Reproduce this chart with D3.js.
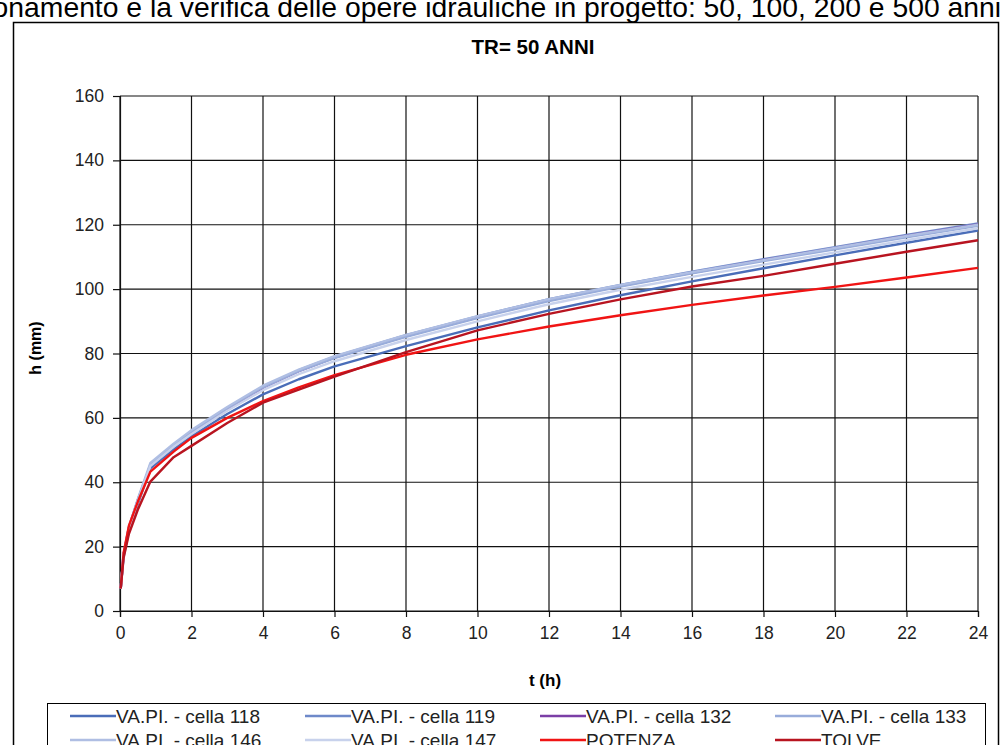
<!DOCTYPE html>
<html>
<head>
<meta charset="utf-8">
<script src="https://cdn.jsdelivr.net/npm/d3@7"></script>
<style>
  body { margin: 0; background: #fff; overflow: hidden; }
  svg { display: block; font-family: "Liberation Sans", Arial, sans-serif; }
</style>
</head>
<body>
<div id="chart"></div>
<script>
// Durations (hours)
const times = [0.02, 0.1, 0.25, 0.5, 0.85, 1.5, 2, 3, 4, 5, 6, 8, 10, 12, 14, 16, 18, 20, 22, 24];

// Rainfall depth h (mm) for each series
const cella118 = [7, 16.8, 25, 33.3, 44.3, 50.2, 54.3, 61.2, 67.3, 72, 76, 82.3, 88.1, 93.4, 98.1, 102.4, 106.5, 110.5, 114.4, 118.2];
const cella119 = [7, 17.5, 26, 34.5, 45.3, 51.5, 55.7, 63, 69.7, 74.8, 79, 85.7, 91.5, 96.9, 101.3, 105.4, 109.3, 113, 116.8, 120.4];
const cella132 = [7, 17.5, 26, 34.5, 45.2, 51.3, 55.5, 62.7, 69.4, 74.5, 78.7, 85.4, 91.2, 96.6, 101, 105.1, 109, 112.7, 116.5, 120.1];
const cella133 = [7, 17.3, 25.8, 34.3, 45.5, 51.6, 55.8, 63, 69.5, 74.5, 78.6, 85.2, 91, 96.3, 100.8, 104.9, 108.7, 112.4, 116.1, 119.7];
const cella146 = [7, 17.6, 26.2, 34.8, 46, 52, 56.2, 63.4, 70, 75, 79.2, 85.8, 91.6, 96.9, 101.3, 105.3, 109, 112.8, 116.5, 120];
const cella147 = [7, 17.2, 25.6, 34, 45, 51, 55, 62.2, 68.6, 73.6, 77.6, 84.2, 90, 95.3, 99.8, 103.8, 107.6, 111.4, 115.2, 118.9];
const potenza  = [7, 18, 26.5, 34, 43.3, 49.5, 53.8, 60, 65.2, 69.5, 73.3, 79.6, 84.4, 88.4, 91.9, 95.1, 98, 100.7, 103.6, 106.6];
const tolve    = [7, 16.5, 24, 31.5, 40.2, 47.8, 51.3, 58.4, 64.7, 68.8, 72.8, 80.4, 87.2, 92.3, 96.8, 100.8, 104.1, 107.9, 111.6, 115.2];

const seriesNames = ["VA.PI. - cella 118", "VA.PI. - cella 119", "VA.PI. - cella 132", "VA.PI. - cella 133",
                     "VA.PI. - cella 146", "VA.PI. - cella 147", "POTENZA", "TOLVE"];
const seriesValues = [cella118, cella119, cella132, cella133, cella146, cella147, potenza, tolve];
const seriesColors = ["#4A6DB8", "#6E89C9", "#7B3FA6", "#98ACDA", "#AFBEE3", "#C8D2EC", "#F01414", "#B81420"];

const xTicks = [0, 2, 4, 6, 8, 10, 12, 14, 16, 18, 20, 22, 24];
const yTicks = [0, 20, 40, 60, 80, 100, 120, 140, 160];

const width = 1001, height = 745;
const plot = { left: 120, right: 978, top: 96, bottom: 611 };

const svg = d3.select("#chart")
    .append("svg")
    .attr("width", width)
    .attr("height", height);

// Document text above the chart (cropped by the window)
svg.append("text")
    .attr("x", 1001)
    .attr("y", 17)
    .attr("text-anchor", "end")
    .attr("font-size", 28.3)
    .attr("fill", "#000")
    .text("dimensionamento e la verifica delle opere idrauliche in progetto: 50, 100, 200 e 500 anni");

// Chart frame
svg.append("rect")
    .attr("x", 13.5)
    .attr("y", 22.5)
    .attr("width", 985)
    .attr("height", 740)
    .attr("fill", "#fff")
    .attr("stroke", "#000")
    .attr("stroke-width", 1.5);

const x = d3.scaleLinear().domain([0, 24]).range([plot.left, plot.right]);
const y = d3.scaleLinear().domain([0, 160]).range([plot.bottom, plot.top]);

// Grid lines
svg.append("g")
    .selectAll("line")
    .data(xTicks)
    .join("line")
    .attr("x1", d => x(d)).attr("x2", d => x(d))
    .attr("y1", plot.top).attr("y2", plot.bottom)
    .attr("stroke", "#111").attr("stroke-width", 1.2);

svg.append("g")
    .selectAll("line")
    .data(yTicks)
    .join("line")
    .attr("x1", plot.left).attr("x2", plot.right)
    .attr("y1", d => y(d)).attr("y2", d => y(d))
    .attr("stroke", "#111").attr("stroke-width", 1.2);

// Axes
const xAxis = svg.append("g")
    .attr("transform", `translate(0,${plot.bottom})`)
    .call(d3.axisBottom(x).tickValues(xTicks).tickSize(6).tickPadding(10));

const yAxis = svg.append("g")
    .attr("transform", `translate(${plot.left},0)`)
    .call(d3.axisLeft(y).tickValues(yTicks).tickSize(7).tickPadding(9));

[xAxis, yAxis].forEach(ax => {
    ax.select(".domain").attr("stroke", "#111").attr("stroke-width", 1.2);
    ax.selectAll(".tick line").attr("stroke", "#111").attr("stroke-width", 1.2);
    ax.selectAll(".tick text")
        .attr("font-size", 17.5)
        .attr("font-family", "'Liberation Sans', Arial, sans-serif")
        .attr("fill", "#222");
});

// Series lines
const line = d3.line()
    .x(d => x(d[0]))
    .y(d => y(d[1]));

seriesValues.forEach((vals, i) => {
    svg.append("path")
        .datum(times.map((t, j) => [t, vals[j]]))
        .attr("fill", "none")
        .attr("stroke", seriesColors[i])
        .attr("stroke-width", 2.4)
        .attr("stroke-linejoin", "round")
        .attr("d", line);
});

// Titles
svg.append("text")
    .attr("x", 533).attr("y", 54)
    .attr("text-anchor", "middle")
    .attr("font-size", 20.5).attr("font-weight", "bold")
    .text("TR= 50 ANNI");

svg.append("text")
    .attr("x", 545).attr("y", 686)
    .attr("text-anchor", "middle")
    .attr("font-size", 17).attr("font-weight", "bold")
    .text("t (h)");

svg.append("text")
    .attr("transform", "translate(41,348) rotate(-90)")
    .attr("text-anchor", "middle")
    .attr("font-size", 16).attr("font-weight", "bold")
    .text("h (mm)");

// Legend
const legend = svg.append("g");
legend.append("rect")
    .attr("x", 47.5).attr("y", 703.5)
    .attr("width", 938).attr("height", 60)
    .attr("fill", "#fff")
    .attr("stroke", "#000").attr("stroke-width", 1);

const colX = [70, 305, 540, 775];
const rowY = [716, 740];

seriesNames.forEach((name, i) => {
    const cx = colX[i % 4], cy = rowY[Math.floor(i / 4)];
    legend.append("line")
        .attr("x1", cx).attr("x2", cx + 46)
        .attr("y1", cy).attr("y2", cy)
        .attr("stroke", seriesColors[i]).attr("stroke-width", 2.5);
    legend.append("text")
        .attr("x", cx + 46).attr("y", cy + 7)
        .attr("font-size", 19)
        .attr("fill", "#222")
        .text(name);
});
</script>
</body>
</html>
